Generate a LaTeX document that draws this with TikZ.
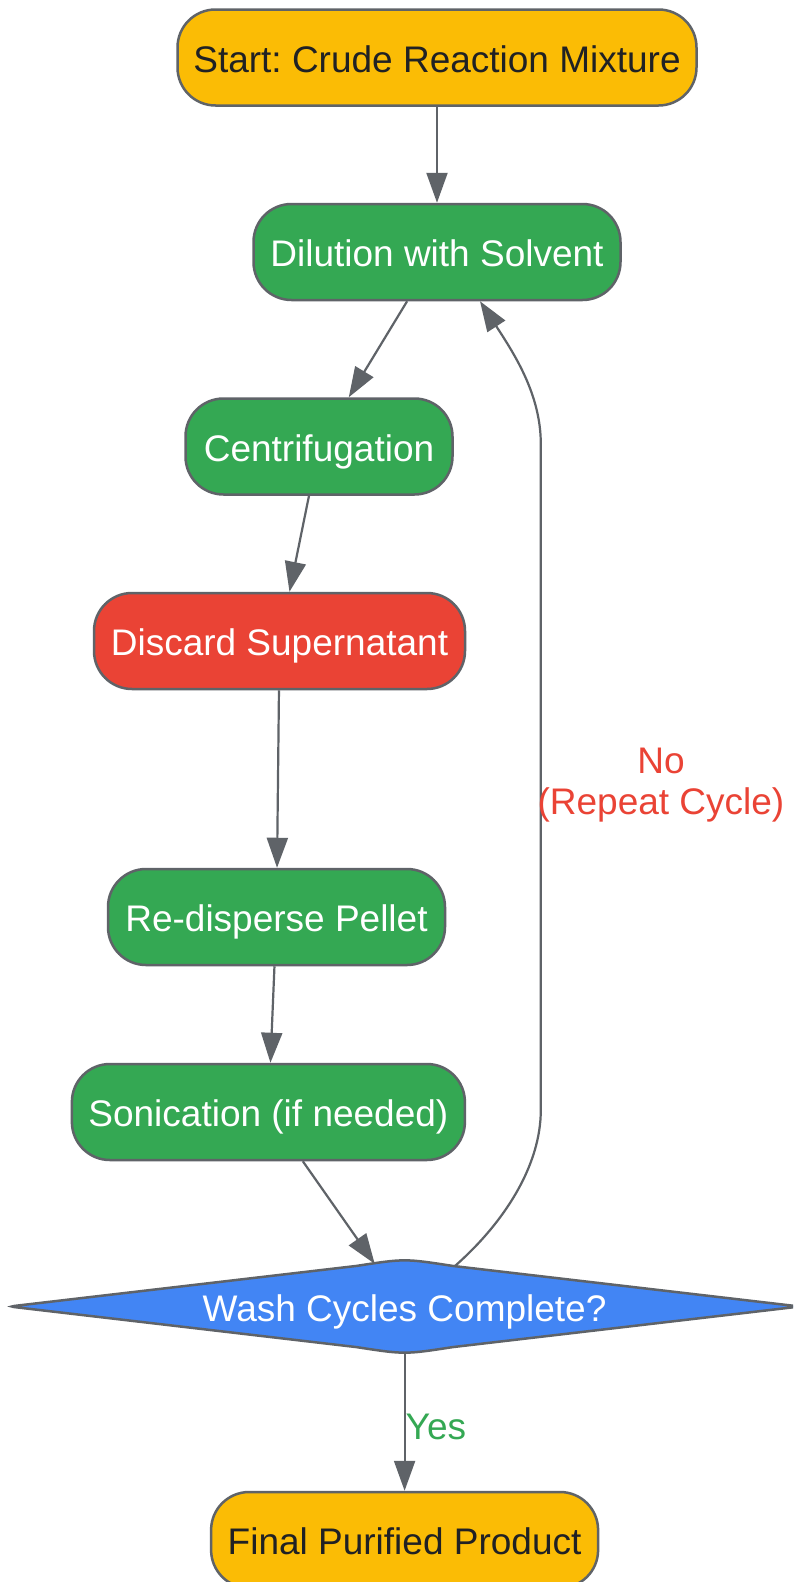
\documentclass[tikz,border=0pt]{standalone}
\usepackage{fontspec}
\setmainfont{Liberation Sans}
\frenchspacing
\usetikzlibrary{arrows.meta,shapes.geometric}
\definecolor{gyellow}{HTML}{FBBC05}
\definecolor{ggreen}{HTML}{34A853}
\definecolor{gred}{HTML}{EA4335}
\definecolor{gblue}{HTML}{4285F4}
\definecolor{ggray}{HTML}{5F6368}
\definecolor{gdark}{HTML}{202124}
\begin{document}
\begin{tikzpicture}[x=1pt,y=-1pt,
  box/.style={draw=ggray,line width=2.5pt,rounded corners=38pt,minimum height=96pt,inner sep=0pt,text height=36pt,text depth=6.6pt,font=\fontsize{37}{44}\selectfont},
  term/.style={box,fill=gyellow,text=gdark},
  proc/.style={box,fill=ggreen,text=white},
  bad/.style={box,fill=gred,text=white},
  decision/.style={shape=diamond,aspect=8.5,text=white,inner sep=0pt,minimum width=789pt,minimum height=92pt,text height=36pt,text depth=6.6pt,font=\fontsize{37}{44}\selectfont},
  diashape/.style={draw=ggray,line width=2.5pt,fill=gblue},
  conn/.style={draw=ggray,line width=2.2pt,-{Triangle[length=30pt,width=21pt]}},
  lab/.style={font=\fontsize{37}{41}\selectfont,align=center,inner sep=1pt}]
\clip (0,0) rectangle (793,1582);
\fill[white] (0,0) rectangle (793,1582);
\node[term,minimum width=519pt] (start) at (437,57.5) {Start: Crude Reaction Mixture};
\node[proc,minimum width=367pt] (dil) at (437,252) {Dilution with Solvent};
\node[proc,minimum width=267pt] (cen) at (319,446.5) {Centrifugation};
\node[bad,minimum width=371pt] (dis) at (279.5,641) {Discard Supernatant};
\node[proc,minimum width=337pt] (red) at (276.5,917) {Re-disperse Pellet};
\node[proc,minimum width=393pt] (son) at (268.4,1112) {Sonication (if needed)};
% decision diamond outline with rounded tips
\path[diashape] (18,1305.5) -- (356.6,1265.9) .. controls (404.6,1258.5) .. (452.6,1265.9)
  -- (791.2,1305.5) .. controls (799.2,1306.5) .. (791.2,1307.5)
  -- (452.6,1347.1) .. controls (404.6,1354.5) .. (356.6,1347.1)
  -- (18,1307.5) .. controls (10,1306.5) .. cycle;
\node[decision] (dec) at (404.6,1306.5) {Wash Cycles Complete?};
\node[term,minimum width=387pt] (fin) at (404.6,1540) {Final Purified Product};
\draw[conn] (start) -- (dil);
\draw[conn] (dil) -- (cen);
\draw[conn] (cen) -- (dis);
\draw[conn] (dis) -- (red);
\draw[conn] (red) -- (son);
\draw[conn] (son) -- (dec);
\draw[conn] (dec) -- node[pos=0.54,lab,text=ggreen,right,xshift=-1pt] (yeslab) {Yes} (fin);
\draw[conn] ([xshift=50pt,yshift=-6pt]dec.north) .. controls (505,1222) and (540.8,1165) .. (540.8,1110) -- (540.8,444) .. controls (540.8,395) and (515,355) .. ([xshift=43pt]dil.south);
\node[lab,text=gred] (nolab) at (661,785) {No\\(Repeat Cycle)};
\end{tikzpicture}
\end{document}
